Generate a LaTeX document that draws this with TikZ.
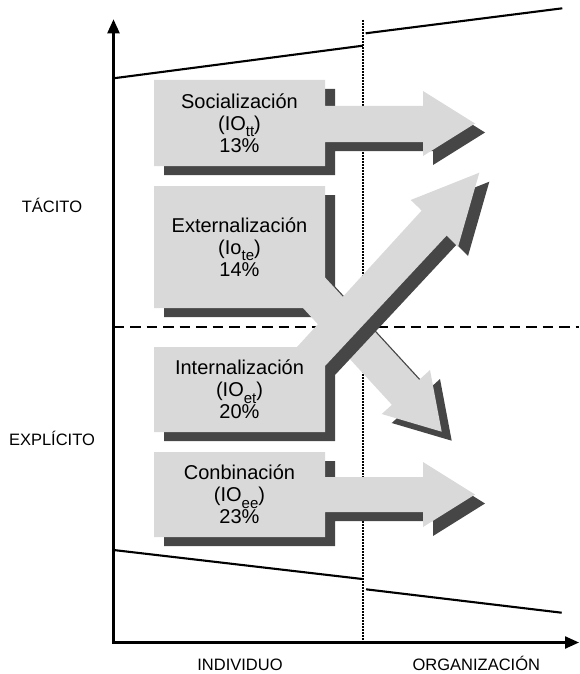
\documentclass[tikz,border=0pt]{standalone}
\usepackage{fontspec}
\setmainfont{Liberation Sans}
\usetikzlibrary{arrows.meta}
\definecolor{boxfill}{RGB}{217,217,217}
\definecolor{boxshadow}{RGB}{70,70,70}
% lowered subscript as set in the labels
\newcommand\lowsub[1]{\raisebox{-0.33em}{\fontsize{15}{15}\selectfont #1}}
% outlines of the four box-and-arrow shapes
\newcommand\pathSoc{(154,80) -- (325,80) -- (325,106) -- (423,106) -- (423,91) -- (475,123.5) -- (423,156) -- (423,142) -- (325,142) -- (325,166) -- (154,166) -- cycle}
\newcommand\pathExt{(154,186) -- (325,186) -- (325,277.4) -- (419.1,379.9) -- (430,370) -- (441.7,431.7) -- (381.7,414) -- (391.9,404.8) -- (303,308) -- (154,308) -- cycle}
\newcommand\pathInt{(154,347) -- (297,347) -- (421.7,210.5) -- (410.7,200) -- (479.3,172.7) -- (458,247) -- (446.7,235.5) -- (325,366) -- (325,432) -- (154,432) -- cycle}
\newcommand\pathCon{(154,452) -- (325,452) -- (325,477) -- (423,477) -- (423,462) -- (475,494.5) -- (423,527) -- (423,512) -- (325,512) -- (325,537) -- (154,537) -- cycle}
\begin{document}
\begin{tikzpicture}[x=1pt,y=-1pt,
  axisline/.style={line width=2.3pt},
  guide/.style={line width=2.1pt},
  splitline/.style={line width=2.2pt, dash pattern=on 1.7pt off 1.3pt},
  halfline/.style={line width=2.2pt, dash pattern=on 10.5pt off 6pt},
  shapefill/.style={fill=boxfill},
  shapeshadow/.style={fill=boxshadow, shift={(10,9)}},
  axislabel/.style={font=\fontsize{16.5}{18}\selectfont, anchor=base, inner sep=0pt},
  boxtext/.style={font=\fontsize{20}{22}\selectfont, align=center, inner sep=0pt}]
\useasboundingbox (0,0) rectangle (579,674);

% axes
\coordinate (O) at (113.5,642.5);
\coordinate (ytop) at (113.5,19.3);
\coordinate (xend) at (579,642.5);
\draw[axisline, line join=miter, {Triangle[length=14pt 0,width=12pt 0]}-{Triangle[length=14pt 0,width=12pt 0]}] (ytop) -- (O) -- (xend);

% boundary lines of the region
\coordinate (tA) at (113.5,78.3);  \coordinate (tB) at (362.7,45.7);
\coordinate (tC) at (365.7,33.3);  \coordinate (tD) at (562.3,8.3);
\coordinate (bA) at (113.5,550);   \coordinate (bB) at (362.3,579);
\coordinate (bC) at (366,589.3);   \coordinate (bD) at (561.7,612.7);
\draw[guide] (tA) -- (tB);
\draw[guide] (tC) -- (tD);
\draw[guide] (bA) -- (bB);
\draw[guide] (bC) -- (bD);

% individual / organization split and tacit / explicit split
\coordinate (sT) at (363,20);  \coordinate (sB) at (363,642.5);
\draw[splitline] (sT) -- (sB);
\coordinate (hL) at (113.5,327); \coordinate (hR) at (579,327);
\draw[halfline] (hL) -- (hR);

% conversion shapes with their shadows
\fill[shapeshadow] \pathSoc;
\fill[shapefill] \pathSoc;
\fill[shapeshadow] \pathCon;
\fill[shapefill] \pathCon;
\fill[shapeshadow] \pathExt;
\fill[shapefill] \pathExt;
\fill[shapeshadow] \pathInt;
\fill[shapefill] \pathInt;

% box texts
\node[boxtext] (soc) at (239.5,123) {Socialización\\(IO\lowsub{tt})\\13\%};
\node[boxtext] (ext) at (239.5,247) {Externalización\\(Io\lowsub{te})\\14\%};
\node[boxtext] (int) at (239.5,389.5) {Internalización\\(IO\lowsub{et})\\20\%};
\node[boxtext] (con) at (239.5,494.5) {Conbinación\\(IO\lowsub{ee})\\23\%};

% axis labels
\node[axislabel] (tac) at (52,212.3) {TÁCITO};
\node[axislabel] (exp) at (52,445) {EXPLÍCITO};
\node[axislabel] (ind) at (240,670) {INDIVIDUO};
\node[axislabel] (org) at (476.3,670) {ORGANIZACIÓN};
\end{tikzpicture}
\end{document}
